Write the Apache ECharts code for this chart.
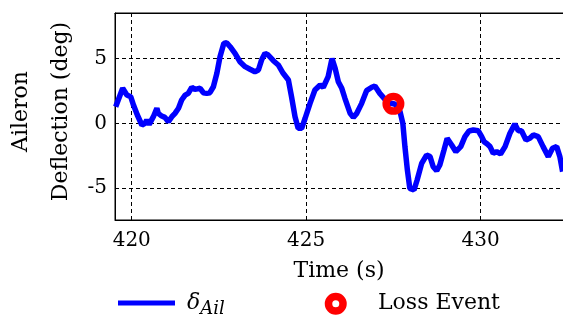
<!DOCTYPE html>
<html>
<head>
<meta charset="utf-8">
<script src="https://cdn.jsdelivr.net/npm/echarts@6/dist/echarts.min.js"></script>
<style>
html,body{margin:0;padding:0;background:#fff;}
#chart{width:563px;height:320px;}
</style>
</head>
<body>
<div id="chart"></div>
<script>
// Time (s)
var times = [419.54,419.74,419.86,419.97,420.05,420.16,420.29,420.38,420.43,420.50,
  420.62,420.72,420.76,420.86,420.95,421.05,421.15,421.24,421.34,421.43,
  421.53,421.62,421.72,421.81,421.96,422.05,422.15,422.24,422.34,422.44,
  422.53,422.64,422.72,422.82,422.96,423.10,423.25,423.39,423.53,423.63,
  423.72,423.82,423.91,424.06,424.20,424.34,424.49,424.58,424.68,424.77,
  424.87,424.97,425.11,425.25,425.40,425.49,425.63,425.74,425.83,425.92,
  426.02,426.11,426.26,426.35,426.45,426.59,426.73,426.88,426.97,427.11,
  427.26,427.40,427.54,427.69,427.77,427.83,427.90,427.97,428.09,428.18,
  428.31,428.45,428.55,428.64,428.74,428.83,428.95,429.04,429.17,429.29,
  429.43,429.55,429.67,429.79,429.93,430.03,430.10,430.19,430.27,430.36,
  430.46,430.57,430.70,430.84,430.98,431.08,431.17,431.30,431.41,431.51,
  431.65,431.79,431.94,432.06,432.18,432.27,432.35];
// Aileron deflection (deg)
var deflection = [1.28,2.7,2.18,2.05,1.41,0.64,-0.13,0,0.25,-0.08,
  0.51,1.16,0.77,0.56,0.46,0.12,0.51,0.77,1.16,1.8,
  2.18,2.31,2.78,2.62,2.7,2.36,2.31,2.36,2.82,3.86,
  5.14,6.17,6.22,5.91,5.4,4.75,4.37,4.17,3.98,4.11,
  4.88,5.4,5.27,4.83,4.5,3.86,3.34,2.05,0.51,-0.39,
  -0.39,0.39,1.54,2.57,2.96,2.78,3.6,5.0,4.24,3.21,
  2.7,1.93,0.77,0.46,0.77,1.54,2.52,2.78,2.88,2.31,
  1.85,1.54,1.49,0.9,0,-1.8,-3.6,-5.02,-5.15,-4.37,
  -3.09,-2.45,-2.57,-3.35,-3.66,-3.22,-2.06,-1.16,-1.67,-2.19,
  -1.8,-1.03,-0.59,-0.52,-0.57,-1.03,-1.42,-1.6,-1.8,-2.31,
  -2.19,-2.37,-1.8,-0.77,-0.05,-0.57,-0.57,-1.29,-1.16,-0.9,
  -1.03,-1.8,-2.57,-1.93,-1.8,-2.57,-3.73];
// Loss event
var lossTime = [427.5];
var lossValue = [1.5];
// Tick labels
var xTicks = [420, 425, 430];
var yTicks = [-5, 0, 5];

var FONT = 'DejaVu Serif';
var lineData = times.map(function (t, i) { return [t, deflection[i]]; });
var lossData = lossTime.map(function (t, i) { return [t, lossValue[i]]; });

var chart = echarts.init(document.getElementById('chart'), null, {renderer: 'canvas'});
chart.setOption({
  animation: false,
  backgroundColor: '#fff',
  grid: {left: 115, top: 13, right: -8, bottom: 100, show: true, borderColor: '#000', borderWidth: 1,
         outerBoundsMode: 'none', containLabel: false},
  xAxis: [{
    type: 'value', min: 419.52, max: 432.59, splitNumber: 3, position: 'bottom',
    axisLine: {show: true, onZero: false, lineStyle: {color: '#000', width: 1}},
    axisTick: {show: false},
    splitLine: {show: true, lineStyle: {color: '#000', width: 1, type: [4, 3]}},
    axisLabel: {
      color: '#000', fontFamily: FONT, fontSize: 20, margin: 11,
      showMinLabel: false, showMaxLabel: false,
      formatter: function (v) { return xTicks.indexOf(Math.round(v * 100) / 100) >= 0 ? String(v) : ''; }
    },
    name: 'Time (s)', nameLocation: 'middle', nameGap: 40, nameMoveOverlap: false,
    nameTextStyle: {color: '#000', fontFamily: FONT, fontSize: 22, padding: [0, 8, 0, 0]}
  }, {
    type: 'value', min: 419.52, max: 432.59, position: 'top',
    axisLine: {show: true, onZero: false, lineStyle: {color: '#000', width: 1}},
    axisTick: {show: false}, axisLabel: {show: false}, splitLine: {show: false}
  }],
  yAxis: {
    type: 'value', min: -7.46, max: 8.51, splitNumber: 3,
    axisLine: {show: true, onZero: false, lineStyle: {color: '#000', width: 1}},
    axisTick: {show: false},
    splitLine: {show: true, lineStyle: {color: '#000', width: 1, type: [4, 3]}},
    axisLabel: {
      color: '#000', fontFamily: FONT, fontSize: 20, margin: 8,
      showMinLabel: false, showMaxLabel: false,
      formatter: function (v) { return yTicks.indexOf(Math.round(v * 100) / 100) >= 0 ? String(v) : ''; }
    },
    name: 'Aileron\nDeflection (deg)', nameLocation: 'middle', nameGap: 34, nameMoveOverlap: false,
    nameTextStyle: {color: '#000', fontFamily: FONT, fontSize: 22, lineHeight: 40, align: 'center', padding: [0, 0, 0, 10]}
  },
  legend: [{
    left: 118, top: 292, padding: 0, itemWidth: 57, itemHeight: 5,
    data: [{name: 'δAil', icon: 'rect', itemStyle: {color: '#0000ff'}}],
    formatter: function () { return '{a|δ}{b|Ail}'; },
    textStyle: {
      color: '#000', fontFamily: FONT, fontSize: 22, padding: [0, 0, 0, 7],
      rich: {
        a: {fontFamily: FONT, fontStyle: 'italic', fontSize: 22, color: '#000'},
        b: {fontFamily: FONT, fontStyle: 'italic', fontSize: 18, color: '#000', padding: [12, 0, 0, 0]}
      }
    }
  }, {
    left: 324.75, top: 292.75, padding: 0, itemWidth: 14.5, itemHeight: 14.5,
    data: [{name: 'Loss Event', icon: 'circle', itemStyle: {color: '#fff', borderColor: '#ff0000', borderWidth: 7.5}}],
    textStyle: {color: '#000', fontFamily: FONT, fontSize: 22, padding: [0, 0, 0, 30]}
  }],
  series: [{
    name: 'δAil', type: 'line', data: lineData, showSymbol: false, symbol: 'none',
    lineStyle: {color: '#0000ff', width: 5.5}, itemStyle: {color: '#0000ff'},
    clip: true, z: 2
  }, {
    name: 'Loss Event', type: 'scatter', data: lossData, symbol: 'circle', symbolSize: 14.5,
    itemStyle: {color: 'rgba(0,0,0,0)', borderColor: '#ff0000', borderWidth: 7.5, opacity: 1},
    z: 3
  }]
});
</script>
</body>
</html>
